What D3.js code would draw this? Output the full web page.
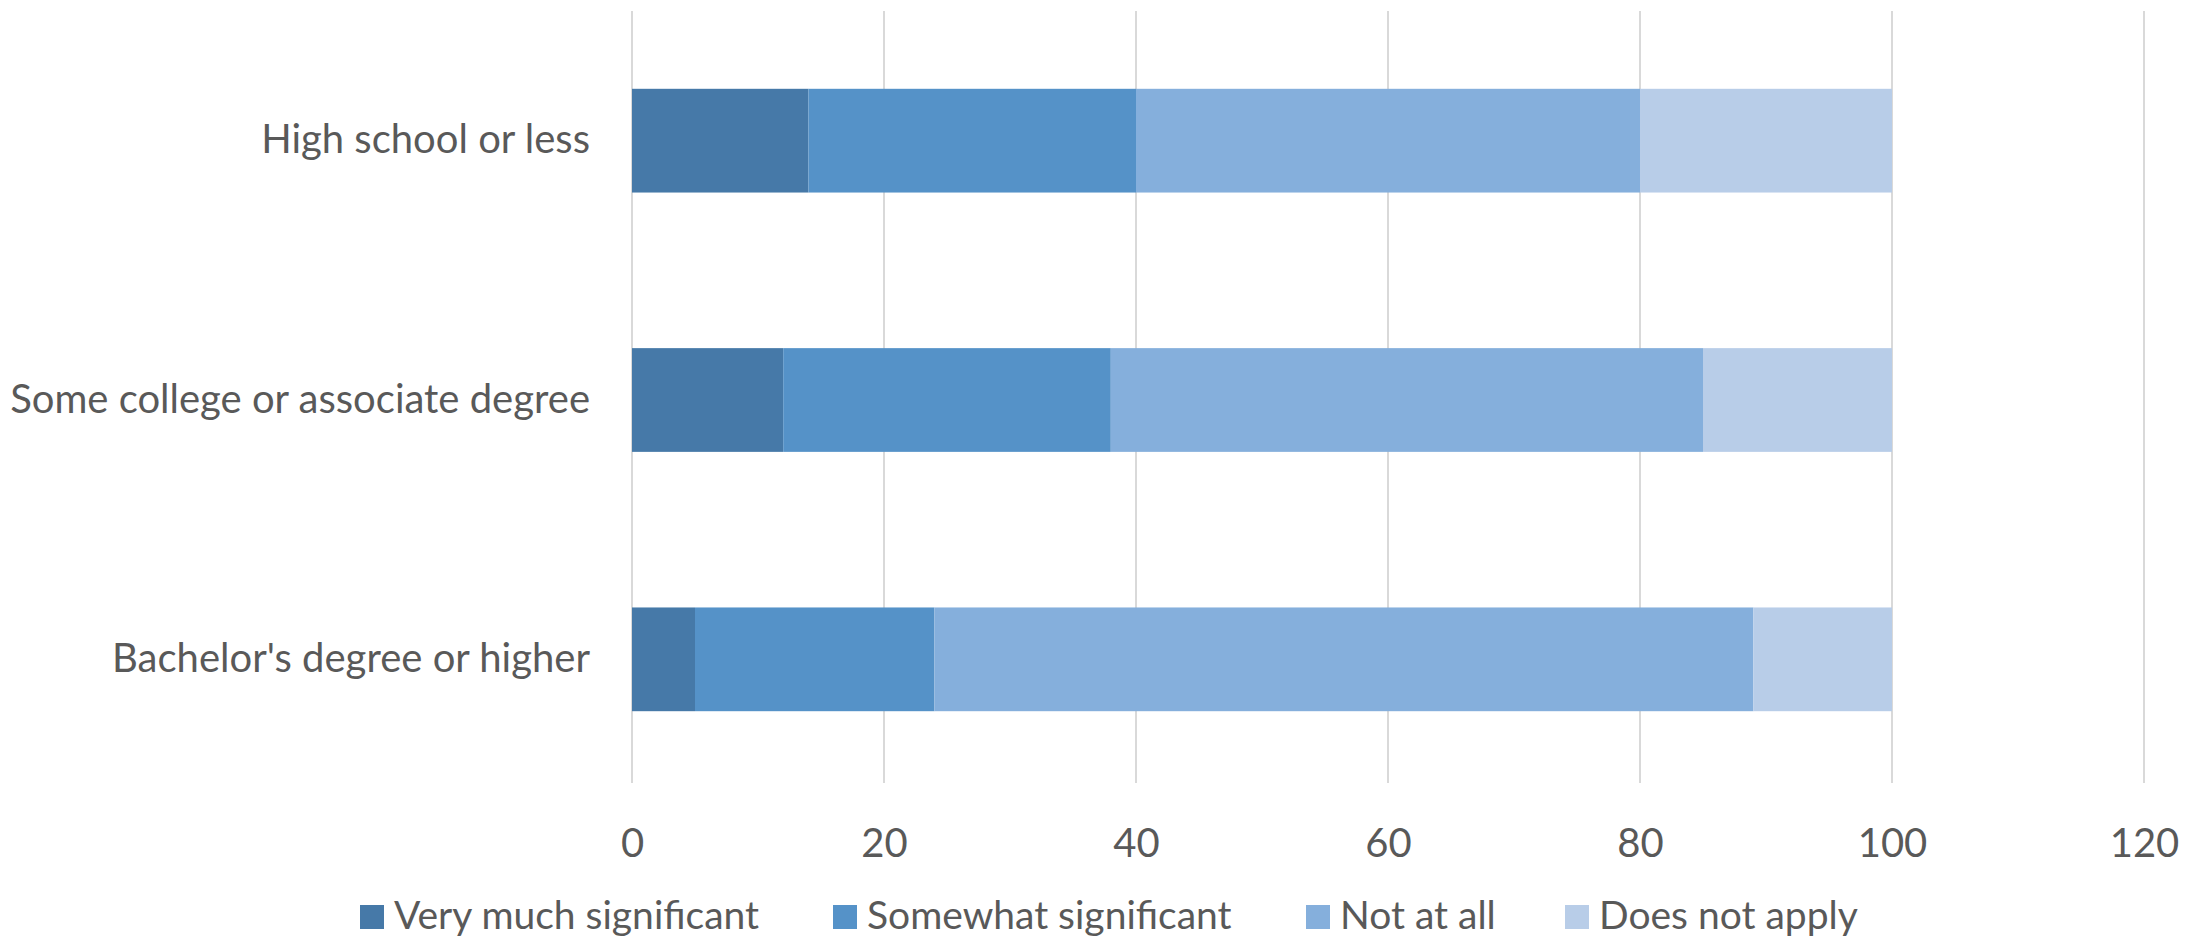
<!DOCTYPE html>
<html>
<head>
<meta charset="utf-8">
<script src="https://cdn.jsdelivr.net/npm/d3@7"></script>
<style>
  html, body { margin: 0; padding: 0; background: #ffffff; }
  svg { display: block; }
  text { font-family: Lato, "Open Sans", sans-serif; fill: #595959; }
</style>
</head>
<body>
<svg id="chart" width="2203" height="937"></svg>
<script>
// Education groups, top to bottom
const categories = ["High school or less", "Some college or associate degree", "Bachelor's degree or higher"];

// Response categories (stack order, left to right)
const seriesNames = ["Very much significant", "Somewhat significant", "Not at all", "Does not apply"];

// Percent of respondents per group for each response
const veryMuch     = [14, 12, 5];
const somewhat     = [26, 26, 19];
const notAtAll     = [40, 47, 65];
const doesNotApply = [20, 15, 11];

const xTicks = [0, 20, 40, 60, 80, 100, 120];

const colors = ["#4679a8", "#5592c8", "#85afdc", "#b8cde8"];

const W = 2203, H = 937;
const margin = { left: 632, right: 59, top: 11, bottom: 148 };

const svg = d3.select("#chart");

const rows = categories.map((c, i) => ({
  category: c,
  [seriesNames[0]]: veryMuch[i],
  [seriesNames[1]]: somewhat[i],
  [seriesNames[2]]: notAtAll[i],
  [seriesNames[3]]: doesNotApply[i]
}));

const x = d3.scaleLinear()
  .domain([0, 120])
  .range([margin.left, W - margin.right]);

const y = d3.scaleBand()
  .domain(categories)
  .range([margin.top, H - margin.bottom])
  .paddingInner(0.6)
  .paddingOuter(0.3);

const color = d3.scaleOrdinal().domain(seriesNames).range(colors);

// Vertical gridlines
svg.append("g")
  .selectAll("line")
  .data(xTicks)
  .join("line")
  .attr("x1", d => x(d)).attr("x2", d => x(d))
  .attr("y1", margin.top).attr("y2", H - margin.bottom - 6)
  .attr("stroke", "#d9d9d9")
  .attr("stroke-width", 2);

// Stacked bars
const stacked = d3.stack().keys(seriesNames)(rows);

svg.append("g")
  .selectAll("g")
  .data(stacked)
  .join("g")
  .attr("fill", d => color(d.key))
  .selectAll("rect")
  .data(d => d)
  .join("rect")
  .attr("x", d => x(d[0]))
  .attr("width", d => x(d[1]) - x(d[0]))
  .attr("y", d => y(d.data.category))
  .attr("height", y.bandwidth());

// X axis tick labels
const xAxis = d3.axisBottom(x).tickValues(xTicks).tickSize(0).tickPadding(0);
const gx = svg.append("g")
  .attr("transform", `translate(0, ${H - margin.bottom + 40})`)
  .call(xAxis);
gx.select(".domain").remove();
gx.selectAll("text")
  .attr("font-family", "Lato, 'Open Sans', sans-serif")
  .attr("font-size", 40)
  .attr("fill", "#595959")
  .attr("dy", "0.71em");

// Y axis category labels
const yAxis = d3.axisLeft(y).tickSize(0).tickPadding(42);
const gy = svg.append("g")
  .attr("transform", `translate(${margin.left}, 0)`)
  .call(yAxis);
gy.select(".domain").remove();
gy.selectAll("text")
  .attr("font-family", "Lato, 'Open Sans', sans-serif")
  .attr("font-size", 40)
  .attr("fill", "#595959");

// Legend along the bottom edge
const legendBaseline = 929;
const legendStarts = [360, 833, 1306, 1565];
const legend = svg.append("g");
const items = legend.selectAll("g")
  .data(seriesNames)
  .join("g")
  .attr("transform", (d, i) => `translate(${legendStarts[i]}, ${legendBaseline})`);
items.append("rect")
  .attr("x", 0).attr("y", -24)
  .attr("width", 24).attr("height", 24)
  .attr("fill", d => color(d));
items.append("text")
  .attr("x", 34)
  .attr("y", 0)
  .attr("font-size", 39)
  .text(d => d);
</script>
</body>
</html>
